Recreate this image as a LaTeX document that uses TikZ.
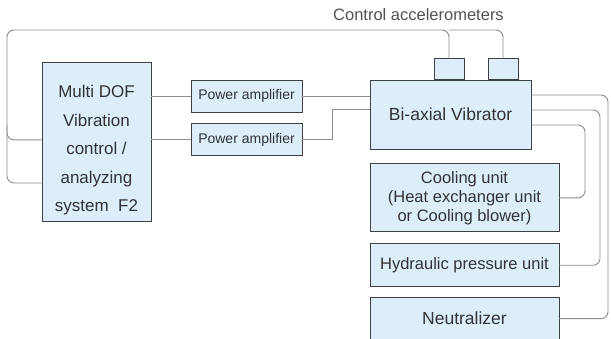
\documentclass[tikz,border=0pt]{standalone}
\usepackage{fontspec}
\setmainfont{Liberation Sans}
\usetikzlibrary{positioning}
\definecolor{boxfill}{HTML}{DCEEFA}
\definecolor{boxline}{HTML}{404040}
\definecolor{wirecol}{HTML}{8C8C8C}
\definecolor{txtcol}{HTML}{333333}
\tikzset{
    unit/.style={rectangle, draw=boxline, line width=0.9pt, fill=boxfill, text=txtcol, inner sep=0pt, align=center, font=\fontsize{16.5}{19}\selectfont},
    amp/.style={unit, minimum width=111pt, minimum height=32pt, font=\fontsize{14}{16}\selectfont},
    sensor/.style={unit, minimum width=30pt, minimum height=21pt},
    wire/.style={draw=wirecol, line width=0.9pt, rounded corners=7pt}
}

\begin{document}
\begin{tikzpicture}[x=1pt, y=-1pt]
    \useasboundingbox (0,0) rectangle (611,339);
    % Nodes
    \node (ctl) [unit, minimum width=109pt, minimum height=159pt, font=\fontsize{17}{28.5}\selectfont] at (96.5,141.5) {\rule{0pt}{30pt}Multi DOF\\Vibration\\control /\\analyzing\\system\ \ F2};
    \node (pa1) [amp] at (246.5,96) {Power amplifier};
    \node (pa2) [amp, below=11pt of pa1] {Power amplifier};
    \node (vib) [unit, minimum width=161pt, minimum height=69pt, font=\fontsize{17.5}{20}\selectfont] at (450.5,114.5) {Bi-axial Vibrator};
    \node (acc1) [sensor, above=0pt of vib.north west, anchor=south west, xshift=64pt] {};
    \node (acc2) [sensor, above=0pt of vib.north west, anchor=south west, xshift=118pt] {};
    \node (acclabel) [text=txtcol!85, font=\fontsize{16.5}{19}\selectfont] at (418.5,15) {Control accelerometers};
    \node (cool) [unit, minimum width=189pt, minimum height=68pt, below=14pt of vib.south west, anchor=north west] {Cooling unit\\(Heat exchanger unit\\or Cooling blower)};
    \node (hyd) [unit, minimum width=189pt, minimum height=43pt, below=11pt of cool.south west, anchor=north west] {Hydraulic pressure unit};
    \node (neut) [unit, minimum width=189pt, minimum height=42pt, font=\fontsize{17.5}{20}\selectfont, below=10pt of hyd.south west, anchor=north west] {Neutralizer};
    \coordinate (ltop) at (7,30);
    \coordinate (lsplit) at (7,125);

    % Connectors
    \draw [wire] (acc1.north) |- (ltop) |- (ctl.west |- pa2.west);
    \draw [wire] (acc2.north) |- (acc1.north |- ltop);
    \draw [wire] (lsplit) |- (ctl.west |- 0,183);
    \draw [wire] (ctl.east |- pa1.west) -- (pa1.west);
    \draw [wire] (ctl.east |- pa2.west) -- (pa2.west);
    \draw [wire] (pa1.east) -- (vib.west |- pa1.east);
    \draw [wire, sharp corners] (pa2.east) -| (332,109) -- (vib.west |- 0,109);
    \draw [wire] (vib.east |- 0,95) -| (neut.east -| 608,0) -- (neut.east);
    \draw [wire] (vib.east |- 0,110) -| (hyd.east -| 600,0) -- (hyd.east);
    \draw [wire] (vib.east |- 0,125) -| (cool.east -| 585,0) -- (cool.east);
\end{tikzpicture}
\end{document}
